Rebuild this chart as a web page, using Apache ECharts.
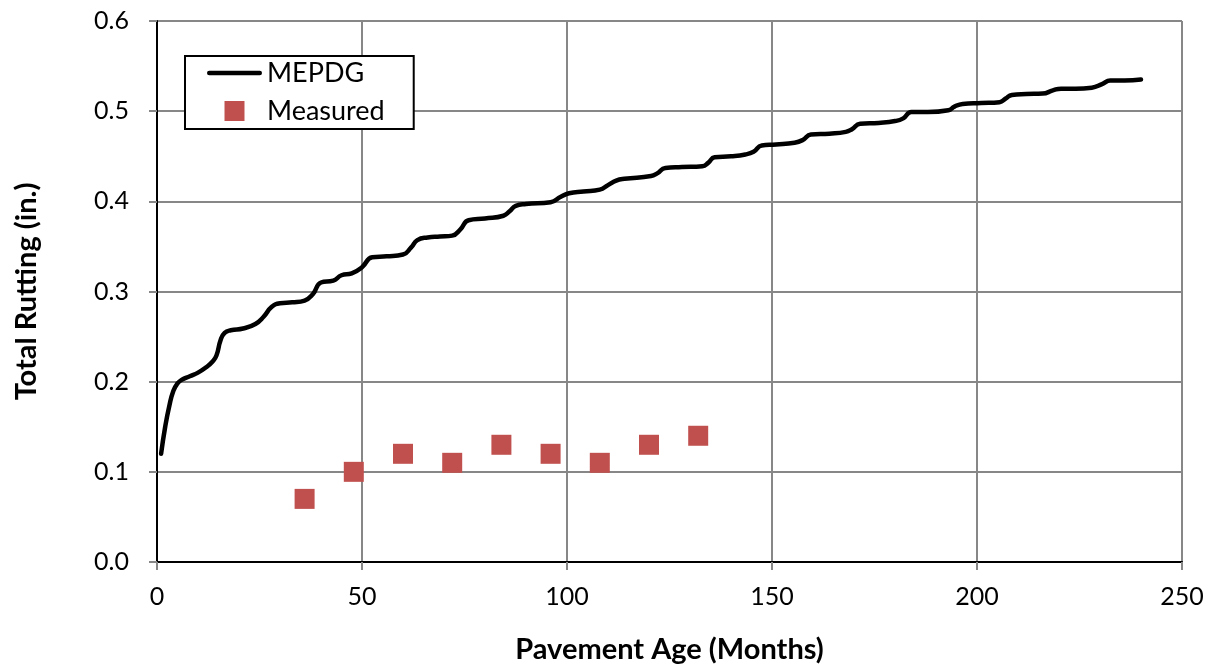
<!DOCTYPE html>
<html>
<head>
<meta charset="utf-8">
<title>Total Rutting vs Pavement Age</title>
<script src="https://cdn.jsdelivr.net/npm/echarts@6/dist/echarts.min.js"></script>
<style>
  html, body { margin: 0; padding: 0; background: #ffffff; }
  #chart { width: 1215px; height: 671px; }
</style>
</head>
<body>
<div id="chart"></div>
<script>
// MEPDG predicted total rutting: [pavement age (months), rutting (in.)]
const mepdgCurve = [
  [1, 0.120], [2, 0.150], [3, 0.173], [4, 0.190], [5, 0.198], [6, 0.202],
  [8, 0.206], [10, 0.210], [12, 0.216], [13.5, 0.222], [14.5, 0.229],
  [15.5, 0.246], [16.5, 0.254], [18, 0.257], [21, 0.259], [24, 0.264],
  [26, 0.272], [28, 0.283], [30, 0.287], [33, 0.288], [36, 0.290],
  [38, 0.297], [40, 0.310], [43, 0.312], [45, 0.318], [47.5, 0.320],
  [50, 0.327], [52.5, 0.338], [56, 0.339], [60, 0.341], [62, 0.349],
  [63.5, 0.357], [66, 0.360], [69, 0.361], [72, 0.362], [74, 0.369],
  [76, 0.379], [80, 0.381], [84.5, 0.384], [86, 0.389], [87.5, 0.395],
  [90, 0.397], [96, 0.399], [98.5, 0.405], [100.5, 0.409], [104, 0.411],
  [108, 0.413], [110, 0.418], [112, 0.423], [114, 0.425], [120.5, 0.428],
  [122, 0.431], [124, 0.437], [128, 0.438], [133, 0.439], [134.5, 0.443],
  [136, 0.449], [140, 0.450], [143.5, 0.452], [145.5, 0.455], [147.5, 0.462],
  [151, 0.463], [155.5, 0.465], [157.5, 0.468], [159.5, 0.474], [164, 0.475],
  [168, 0.477], [169.5, 0.480], [171.5, 0.486], [176, 0.487], [180, 0.489],
  [182, 0.492], [184, 0.499], [188, 0.499], [193, 0.501], [194.5, 0.505],
  [196.5, 0.508], [201, 0.509], [205.5, 0.510], [207, 0.514], [208.5, 0.518],
  [212, 0.519], [216, 0.5195], [218.5, 0.523], [220.5, 0.525], [224, 0.525],
  [228, 0.526], [230.5, 0.530], [232.5, 0.534], [236, 0.534], [240, 0.535]
];

// Field measurements
const measuredAge = [36, 48, 60, 72, 84, 96, 108, 120, 132];
const measuredRut = [0.07, 0.10, 0.12, 0.11, 0.13, 0.12, 0.11, 0.13, 0.14];

const seriesNames = ['MEPDG', 'Measured'];
const xAxisTitle = 'Pavement Age (Months)';
const yAxisTitle = 'Total Rutting (in.)';

const FONT = 'Lato, "Open Sans", sans-serif';
const GRID_GRAY = '#878787';
const RED = '#c0504d';

// legend glyphs: a thick round-ended stroke and a solid square
const LINE_ICON = 'path://M2.25,0 L52.75,0 A2.25,2.25 0 0 1 52.75,4.5 L2.25,4.5 A2.25,2.25 0 0 1 2.25,0 Z';
const SQUARE_ICON = 'path://M0,0 L20,0 L20,20 L0,20 Z';

const chart = echarts.init(document.getElementById('chart'), null, { renderer: 'canvas' });

chart.setOption({
  animation: false,
  backgroundColor: '#ffffff',
  textStyle: { fontFamily: FONT, color: '#000000' },
  grid: { left: 157, right: 33, top: 21, bottom: 109, containLabel: false },
  legend: {
    data: [
      { name: seriesNames[0], icon: LINE_ICON, itemStyle: { color: '#000000' } },
      { name: seriesNames[1], icon: SQUARE_ICON, itemStyle: { color: RED } }
    ],
    orient: 'vertical',
    left: 185,
    top: 56,
    padding: [2, 29, 3, 22],
    itemGap: 8,
    itemWidth: 55,
    itemHeight: 20,
    symbolKeepAspect: true,
    borderColor: '#000000',
    borderWidth: 2,
    borderRadius: 0,
    backgroundColor: '#ffffff',
    textStyle: { fontFamily: FONT, fontSize: 27, lineHeight: 30, color: '#000000' }
  },
  xAxis: [
    {
      type: 'value',
      min: 0, max: 250, interval: 50,
      name: xAxisTitle,
      nameLocation: 'middle',
      nameGap: 73,
      nameTextStyle: { fontFamily: FONT, fontSize: 29, fontWeight: 'bold', color: '#000000' },
      axisLine: { show: true, onZero: false, lineStyle: { color: GRID_GRAY, width: 2 } },
      axisTick: { show: true, inside: false, length: 8, lineStyle: { color: GRID_GRAY, width: 2 } },
      axisLabel: { fontFamily: FONT, fontSize: 25, color: '#000000', margin: 22 },
      splitLine: { show: true, lineStyle: { color: GRID_GRAY, width: 2 } }
    },
    {
      // top frame edge
      type: 'value', position: 'top', min: 0, max: 250,
      axisLine: { show: true, lineStyle: { color: '#000000', width: 2 } },
      axisTick: { show: false }, axisLabel: { show: false }, splitLine: { show: false }
    }
  ],
  yAxis: [
    {
      type: 'value',
      min: 0, max: 0.6, interval: 0.1,
      name: yAxisTitle,
      nameLocation: 'middle',
      nameGap: 116,
      nameRotate: 90,
      nameTextStyle: { fontFamily: FONT, fontSize: 29, fontWeight: 'bold', color: '#000000' },
      axisLine: { show: true, onZero: false, lineStyle: { color: GRID_GRAY, width: 2 } },
      axisTick: { show: true, inside: false, length: 8, lineStyle: { color: GRID_GRAY, width: 2 } },
      axisLabel: {
        fontFamily: FONT, fontSize: 25, color: '#000000', margin: 28,
        formatter: v => v.toFixed(1)
      },
      splitLine: { show: true, lineStyle: { color: GRID_GRAY, width: 2 } }
    },
    {
      // right frame edge
      type: 'value', position: 'right', min: 0, max: 0.6,
      axisLine: { show: true, lineStyle: { color: '#000000', width: 2 } },
      axisTick: { show: false }, axisLabel: { show: false }, splitLine: { show: false }
    }
  ],
  series: [
    {
      name: seriesNames[0],
      type: 'line',
      data: mepdgCurve,
      symbol: 'none',
      smooth: 0.5,
      lineStyle: { color: '#000000', width: 4.5, cap: 'round', join: 'round' },
      itemStyle: { color: '#000000' },
      z: 3
    },
    {
      name: seriesNames[1],
      type: 'scatter',
      data: measuredAge.map((m, i) => [m, measuredRut[i]]),
      symbol: 'rect',
      symbolSize: 20,
      itemStyle: { color: RED, opacity: 1 },
      z: 4
    }
  ]
});
</script>
</body>
</html>
